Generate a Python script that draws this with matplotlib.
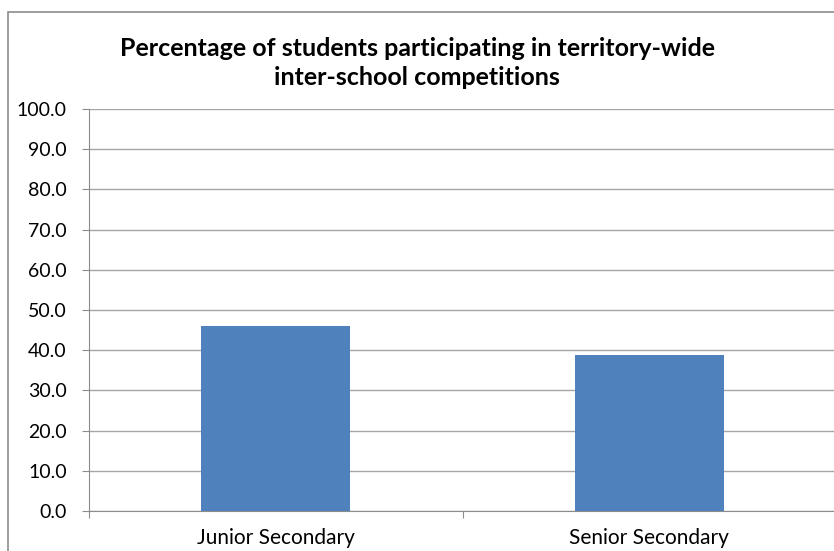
import matplotlib
matplotlib.use("Agg")
import matplotlib.pyplot as plt
import matplotlib.patches as patches
from matplotlib.ticker import FixedLocator, FormatStrFormatter

categories = ["Junior Secondary", "Senior Secondary"]
values = [46.1, 38.9]
yticks = [0, 10, 20, 30, 40, 50, 60, 70, 80, 90, 100]
title = "Percentage of students participating in territory-wide\ninter-school competitions"

plt.rcParams['font.family'] = ['Lato', 'DejaVu Sans']

fig = plt.figure(figsize=(8.34, 5.51), dpi=100)
ax = fig.add_axes([89 / 834, 1 - 511 / 551, (836 - 89) / 834, (511 - 109) / 551])

# chart frame like the spreadsheet border
fig.patches.append(patches.Rectangle((8 / 834, -0.1), 1.2, 1 - 12 / 551 + 0.1,
                                     transform=fig.transFigure, fill=False,
                                     edgecolor="#8c8c8c", linewidth=1.2))

x = range(len(categories))
ax.bar(x, values, width=0.4, color="#4F81BD", zorder=3)

ax.set_xlim(-0.5, 1.5)
ax.set_ylim(0, 100)
ax.set_yticks(yticks)
ax.yaxis.set_major_formatter(FormatStrFormatter("%.1f"))
ax.grid(axis="y", color="#a6a6a6", linewidth=1.0, zorder=0)

ax.set_xticks([-0.5, 0.5, 1.5])
ax.set_xticklabels([])
ax.xaxis.set_minor_locator(FixedLocator(list(x)))
ax.set_xticklabels(categories, minor=True)
ax.tick_params(axis="x", which="minor", length=0, pad=12, labelsize=15)
ax.tick_params(axis="x", which="major", length=5, color="#8c8c8c")
ax.tick_params(axis="y", length=5, color="#8c8c8c", labelsize=14, pad=11)

for s in ["top", "right"]:
    ax.spines[s].set_visible(False)
ax.spines["left"].set_color("#8c8c8c")
ax.spines["bottom"].set_color("#8c8c8c")

fig.text(417 / 834, 1 - 63 / 551, title, ha="center", va="center",
         fontsize=18, fontweight="bold", linespacing=1.3)

fig.savefig("out.png", dpi=100)
